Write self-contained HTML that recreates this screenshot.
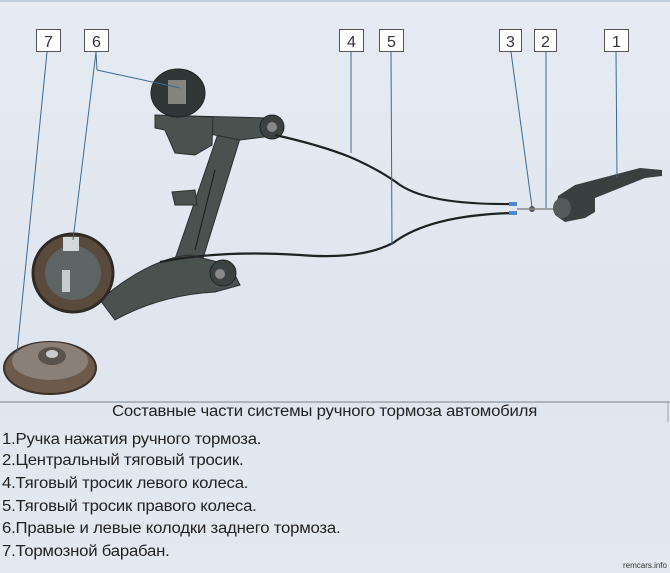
<!DOCTYPE html>
<html><head><meta charset="utf-8"><style>
html,body{margin:0;padding:0}
body{width:670px;height:573px;overflow:hidden;background:linear-gradient(#e6ebf3,#dfe5ee 60%,#e4e9f1);font-family:"Liberation Sans",sans-serif;position:relative}
.t{position:absolute;left:2px;font-size:15.5px;color:#222;letter-spacing:-0.2px;white-space:nowrap;transform:scaleX(1.08);transform-origin:left}
</style></head><body>
<svg width="670" height="573" style="position:absolute;left:0;top:0">
<line x1="0" y1="1" x2="670" y2="1" stroke="#9fb0c4"/>
<line x1="0" y1="402" x2="670" y2="402" stroke="#9aa4ae" stroke-width="1.5"/>
<line x1="668" y1="402" x2="668" y2="422" stroke="#9aa4ae"/>
<!-- suspension upper -->
<g fill="#4a5250" stroke="#2a2e2e" stroke-width="1">
<path d="M220 128 L242 132 L200 268 L173 265 Z"/>
<path d="M190 116 L270 118 L280 135 L240 140 L200 132 Z"/>
<path d="M155 115 L213 117 L212 145 L195 155 L175 153 L165 130 L155 128 Z"/>
<path d="M172 192 L195 190 L197 205 L175 205 Z"/>
</g>
<ellipse cx="178" cy="93" rx="27" ry="24" fill="#303636" stroke="#1e2222"/>
<rect x="168" y="80" width="18" height="24" fill="#9a9a92" opacity="0.8"/>
<circle cx="272" cy="127" r="12" fill="#3c4242" stroke="#222"/>
<circle cx="272" cy="127" r="5" fill="#888"/>
<!-- lower arm -->
<path d="M100 300 Q150 258 190 255 L230 265 L240 285 L215 292 Q160 295 115 320 Z" fill="#4a5250" stroke="#2a2e2e"/>
<circle cx="223" cy="273" r="13" fill="#3c4242" stroke="#222"/>
<circle cx="220" cy="274" r="5" fill="#888"/>
<!-- lower backing plate -->
<ellipse cx="73" cy="273" rx="40" ry="39" fill="#5a4a3c" stroke="#2e2a26" stroke-width="3"/>
<ellipse cx="73" cy="273" rx="28" ry="27" fill="#5e6464"/>
<rect x="63" y="237" width="16" height="14" fill="#d5d8da"/>
<rect x="62" y="270" width="8" height="22" fill="#c8cccc"/>
<!-- drum -->
<ellipse cx="50" cy="368" rx="46" ry="26" fill="#6d5a4a" stroke="#3a3028" stroke-width="2"/>
<ellipse cx="50" cy="361" rx="38" ry="19" fill="#8a8078"/>
<ellipse cx="52" cy="356" rx="14" ry="9" fill="#5a524c"/>
<ellipse cx="52" cy="354" rx="6" ry="4" fill="#ccc"/>
<!-- cables -->
<g stroke="#1e2222" stroke-width="2.2" fill="none">
<path d="M275 135 Q320 145 350 157 Q380 170 400 185 Q430 205 513 204"/>
<path d="M160 262 Q220 250 300 255 Q360 260 393 243 Q430 215 513 213"/>
<path d="M195 250 L215 170" stroke-width="1.2"/>
</g>
<rect x="509" y="202" width="8" height="4" fill="#4a8bd0"/>
<rect x="509" y="211" width="8" height="4" fill="#4a8bd0"/>
<circle cx="532" cy="209" r="3" fill="#555"/>
<line x1="517" y1="209" x2="560" y2="209" stroke="#888" stroke-width="1.5"/>
<path d="M558 196 L575 185 L640 168 L662 170 L662 176 L645 178 L595 198 L595 212 L585 218 L565 222 L555 215 Z" fill="#3a3f40"/>
<ellipse cx="562" cy="208" rx="9" ry="10" fill="#555b5b"/>
<!-- leaders -->
<g stroke="#3b6a90" stroke-width="1" fill="none">
<line x1="47" y1="52" x2="17" y2="353"/>
<line x1="96" y1="52" x2="97" y2="70"/>
<line x1="97" y1="70" x2="180" y2="88"/>
<line x1="96" y1="52" x2="73" y2="240"/>
<line x1="351" y1="52" x2="351" y2="153"/>
<line x1="391" y1="52" x2="392" y2="245"/>
<line x1="511" y1="52" x2="532" y2="207"/>
<line x1="546" y1="52" x2="546" y2="208"/>
<line x1="616" y1="52" x2="617" y2="178"/>
</g>
<!-- boxes -->
<g fill="#fff" stroke="#555" stroke-width="1">
<rect x="36.5" y="29.5" width="24" height="22"/>
<rect x="84.5" y="29.5" width="24" height="22"/>
<rect x="339.5" y="29.5" width="24" height="22"/>
<rect x="379.5" y="29.5" width="24" height="22"/>
<rect x="499.5" y="29.5" width="22" height="22"/>
<rect x="534.5" y="29.5" width="22" height="22"/>
<rect x="604.5" y="29.5" width="24" height="22"/>
</g>
<g font-family="Liberation Sans" font-size="16" fill="#333" text-anchor="middle">
<text x="48.5" y="47">7</text><text x="96.5" y="47">6</text><text x="351.5" y="47">4</text>
<text x="391.5" y="47">5</text><text x="510.5" y="47">3</text><text x="545.5" y="47">2</text><text x="616.5" y="47">1</text>
</g>
</svg>
<div class="t" style="left:112px;top:403px">Составные части системы ручного тормоза автомобиля</div>
<div class="t" style="top:431px">1.Ручка нажатия ручного тормоза.</div>
<div class="t" style="top:452px">2.Центральный тяговый тросик.</div>
<div class="t" style="top:475px">4.Тяговый тросик левого колеса.</div>
<div class="t" style="top:498px">5.Тяговый тросик правого колеса.</div>
<div class="t" style="top:520px">6.Правые и левые колодки заднего тормоза.</div>
<div class="t" style="top:543px">7.Тормозной барабан.</div>
<div style="position:absolute;right:3px;top:561px;font-size:8px;color:#333">remcars.info</div>
</body></html>
